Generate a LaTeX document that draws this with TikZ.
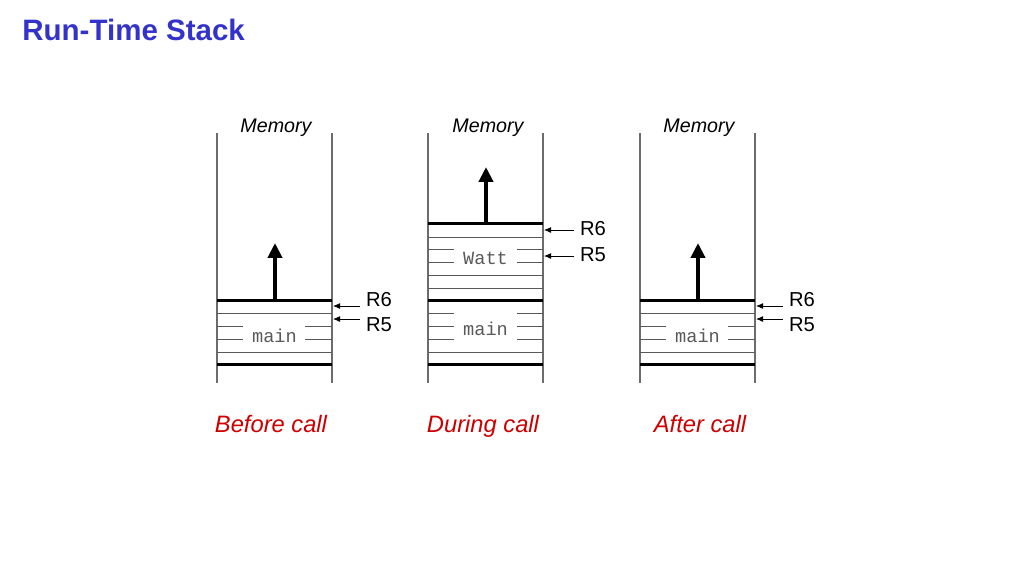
\documentclass[tikz,border=0pt]{standalone}
\usepackage{fontspec}
\setmainfont{Liberation Sans}
\setmonofont{Liberation Mono}
\usepackage{xcolor}
\usetikzlibrary{arrows.meta}
\definecolor{titleblue}{RGB}{51,51,204}
\definecolor{callred}{RGB}{204,0,0}

\begin{document}
\begin{tikzpicture}[
    x=0.02cm, y=-0.02cm,
    >=latex,
    wall/.style={gray!85!black, line width=.6pt},
    frame/.style={black, line width=1.7pt},
    slot/.style={black!65, line width=.45pt},
    growth/.style={-{Triangle[width=8pt,length=8.5pt]}, line width=2.3pt},
    reg/.style={font=\fontsize{11.5}{13}\selectfont},
    regptr/.style={-{Latex[length=4pt,width=3.4pt]}, line width=.5pt},
    frame name/.style={font=\fontsize{10.6}{12}\selectfont\ttfamily, text=black!65},
    memory/.style={anchor=base, font=\fontsize{11.2}{14}\selectfont\itshape},
    caption/.style={anchor=base, font=\fontsize{13.5}{16}\selectfont\itshape, text=callred},
    ]

    \useasboundingbox (0,0) rectangle (1024,576);

    % title
    \node[anchor=base west, inner sep=0, text=titleblue,
          font=\fontsize{16.8}{20}\selectfont\bfseries] (title) at (22,40) {Run-Time Stack};

    % first stack: before call
    \def\xl{217}
    \def\xr{332}
    \draw[wall] (\xl,133) -- (\xl,383);
    \draw[wall] (\xr,133) -- (\xr,383);
    \foreach \y in {300,364} \draw[frame] (\xl,\y) -- (\xr,\y);
    \foreach \y in {313,352} \draw[slot] (\xl,\y) -- (\xr,\y);
    \foreach \y in {326,339} \draw[slot] (\xl,\y) -- ++(26,0) (\xr,\y) -- ++(-27,0);
    \node[frame name] (main1) at (274.5,336) {main};
    \coordinate (sp1) at (275,300);
    \draw[growth] (sp1) -- ++(0,-57);
    \node[memory] (mem1) at (276,132) {Memory};
    \node[reg] (r6a) at (379,300) {R6};
    \node[reg] (r5a) at (379,325) {R5};
    \coordinate (r6a tip) at (333,306);
    \coordinate (r5a tip) at (333,319);
    \draw[regptr] (r6a.west |- r6a tip) -- (r6a tip);
    \draw[regptr] (r5a.west |- r5a tip) -- (r5a tip);
    \node[caption] (cap1) at (271,432) {Before call};

    % second stack: during call
    \def\xl{428}
    \def\xr{543}
    \draw[wall] (\xl,133) -- (\xl,383);
    \draw[wall] (\xr,133) -- (\xr,383);
    \foreach \y in {223,300,364} \draw[frame] (\xl,\y) -- (\xr,\y);
    \foreach \y in {237,275,288,352} \draw[slot] (\xl,\y) -- (\xr,\y);
    \foreach \y in {249,262,313,326,339} \draw[slot] (\xl,\y) -- ++(26,0) (\xr,\y) -- ++(-26,0);
    \node[frame name] (watt2) at (485.5,258) {Watt};
    \node[frame name] (main2) at (485.5,329) {main};
    \coordinate (sp2) at (486,223);
    \draw[growth] (sp2) -- ++(0,-56);
    \node[memory] (mem2) at (488,132) {Memory};
    \node[reg] (r6b) at (593,229) {R6};
    \node[reg] (r5b) at (593,255) {R5};
    \coordinate (r6b tip) at (544,230);
    \coordinate (r5b tip) at (544,256);
    \draw[regptr] (r6b.west |- r6b tip) -- (r6b tip);
    \draw[regptr] (r5b.west |- r5b tip) -- (r5b tip);
    \node[caption] (cap2) at (483,432) {During call};

    % third stack: after call
    \def\xl{640}
    \def\xr{755}
    \draw[wall] (\xl,133) -- (\xl,383);
    \draw[wall] (\xr,133) -- (\xr,383);
    \foreach \y in {300,364} \draw[frame] (\xl,\y) -- (\xr,\y);
    \foreach \y in {313,352} \draw[slot] (\xl,\y) -- (\xr,\y);
    \foreach \y in {326,339} \draw[slot] (\xl,\y) -- ++(26,0) (\xr,\y) -- ++(-27,0);
    \node[frame name] (main3) at (697.5,336) {main};
    \coordinate (sp3) at (698,300);
    \draw[growth] (sp3) -- ++(0,-57);
    \node[memory] (mem3) at (699,132) {Memory};
    \node[reg] (r6c) at (802,300) {R6};
    \node[reg] (r5c) at (802,325) {R5};
    \coordinate (r6c tip) at (756,306);
    \coordinate (r5c tip) at (756,319);
    \draw[regptr] (r6c.west |- r6c tip) -- (r6c tip);
    \draw[regptr] (r5c.west |- r5c tip) -- (r5c tip);
    \node[caption] (cap3) at (700,432) {After call};

\end{tikzpicture}
\end{document}
